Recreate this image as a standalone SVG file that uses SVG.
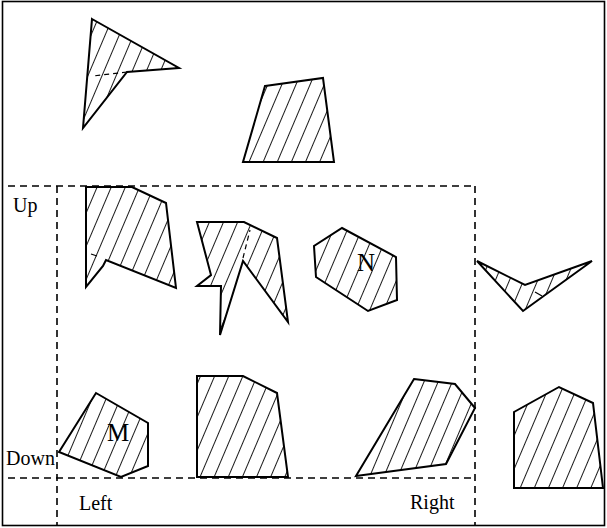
<svg xmlns="http://www.w3.org/2000/svg" width="607" height="528" viewBox="0 0 607 528">
<defs>
<pattern id="hatch" patternUnits="userSpaceOnUse" width="13" height="13" patternTransform="rotate(23)">
<line x1="6.5" y1="-1" x2="6.5" y2="14" stroke="#000" stroke-width="0.9"/>
</pattern>
</defs>
<style>
.shape{fill:url(#hatch);stroke:#000;stroke-width:2;stroke-linejoin:miter}
.dash{fill:none;stroke:#000;stroke-width:1.6;stroke-dasharray:7,5}
.thin{fill:none;stroke:#000;stroke-width:1.2;stroke-dasharray:5,4}
.lbl{font-family:"Liberation Serif","Times New Roman",serif;font-size:20px;fill:#000}
.big{font-family:"Liberation Serif","Times New Roman",serif;font-size:25px;fill:#000;text-anchor:middle}
</style>
<rect x="0" y="0" width="607" height="528" fill="#fff"/>
<rect x="2.5" y="1.5" width="602" height="524" fill="none" stroke="#000" stroke-width="1.6"/>
<g id="guides">
<line class="dash" x1="8" y1="186" x2="475" y2="186"/>
<line class="dash" x1="57" y1="186" x2="57" y2="526"/>
<line class="dash" x1="475" y1="186" x2="475" y2="526"/>
<line class="dash" x1="8" y1="478" x2="475" y2="478"/>
</g>
<g id="shape-top-left">
<polygon class="shape" points="92,19 179,68 127,72 83,128"/>
<line class="thin" x1="127" y1="72" x2="93" y2="76"/>
</g>
<g id="shape-top-middle">
<polygon class="shape" points="265,86 323,78 334,162 243,162"/>
</g>
<g id="shape-up-left">
<polygon class="shape" points="86,187 132,187 166,203 176,288 106,260 103,266 86,287"/>
<line x1="91" y1="254" x2="97" y2="256" stroke="#000" stroke-width="1.2"/>
</g>
<g id="shape-zigzag">
<polygon class="shape" points="197,222 244,222 277,238 288,322 243,261 220,335 221,286 197,286 211,275"/>
<line class="thin" x1="243" y1="258" x2="250" y2="230"/>
</g>
<g id="node-N">
<polygon class="shape" points="342,228 396,257 397,300 368,311 316,277 314,246"/>
<text class="big" x="366" y="271">N</text>
</g>
<g id="shape-v">
<polygon class="shape" points="477,261 525,285 592,261 523,311"/>
<line x1="535" y1="292" x2="542" y2="296" stroke="#000" stroke-width="1.2"/>
</g>
<g id="node-M">
<polygon class="shape" points="96,393 148,423 148,466 121,477 59,452"/>
<text class="big" x="118" y="441">M</text>
</g>
<g id="shape-bottom-middle">
<polygon class="shape" points="197,376 243,376 277,393 288,477 197,477"/>
</g>
<g id="shape-bottom-right-center">
<polygon class="shape" points="414,379 455,384 475,408 446,464 356,476"/>
</g>
<g id="shape-far-right">
<polygon class="shape" points="514,412 559,387 593,403 603,488 514,488"/>
</g>
<g id="labels">
<text class="lbl" x="13" y="212">Up</text>
<text class="lbl" x="6" y="465">Down</text>
<text class="lbl" x="79" y="510">Left</text>
<text class="lbl" x="410" y="509">Right</text>
</g>
</svg>
